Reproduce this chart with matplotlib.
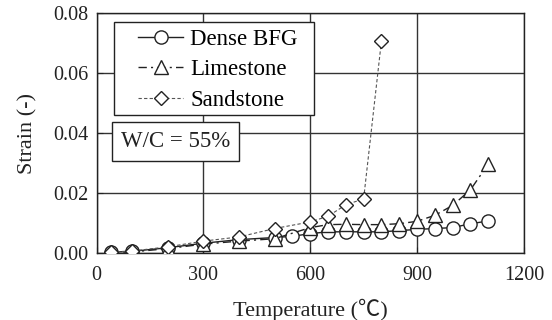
import matplotlib
matplotlib.use('Agg')
import matplotlib.pyplot as plt
from matplotlib.patches import Rectangle

plt.rcParams['font.family'] = ['Liberation Serif', 'Noto Sans CJK JP', 'DejaVu Sans']
plt.rcParams['mathtext.fontset'] = 'stix'

# ── Data ────────────────────────────────────────────────────────────────────
temp_bfg = [40, 100, 200, 300, 400, 500, 550, 600, 650, 700, 750, 800, 850, 900, 950, 1000, 1050, 1100]
strain_bfg = [0.0003, 0.0006, 0.0018, 0.0033, 0.0045, 0.0052, 0.0056, 0.0065, 0.0071, 0.0071, 0.0071, 0.0071,
              0.0075, 0.0079, 0.0082, 0.0085, 0.0098, 0.0107]

temp_lime = [40, 100, 200, 300, 400, 500, 600, 650, 700, 750, 800, 850, 900, 950, 1000, 1050, 1100]
strain_lime = [0.0002, 0.0004, 0.0015, 0.0030, 0.0040, 0.0048, 0.0085, 0.0095, 0.0096, 0.0095, 0.0095,
               0.0098, 0.0106, 0.0126, 0.0159, 0.0211, 0.0297]

temp_sand = [40, 100, 200, 300, 400, 500, 600, 650, 700, 750, 800]
strain_sand = [0.0004, 0.0007, 0.0021, 0.0040, 0.0054, 0.0082, 0.0104, 0.0123, 0.0161, 0.0181, 0.0707]

x_ticks = [0, 300, 600, 900, 1200]
y_ticks = [0.00, 0.02, 0.04, 0.06, 0.08]

# ── Figure ──────────────────────────────────────────────────────────────────
fig = plt.figure(figsize=(5.52, 3.2), dpi=100)
ax = fig.add_axes([0.175, 0.209, 0.774, 0.750])

ax.plot(temp_bfg, strain_bfg, '-', color='#222222', lw=1.0, marker='o', ms=9.5,
        mfc='white', mec='#222222', mew=1.0, label='Dense BFG', zorder=3)
ax.plot(temp_lime, strain_lime, color='#222222', lw=1.0, ls=(0, (6, 3, 1.5, 3)), marker='^', ms=10,
        mfc='white', mec='#222222', mew=1.0, label='Limestone', zorder=4)
ax.plot(temp_sand, strain_sand, color='#555555', lw=0.8, ls=(0, (3, 2)), marker='D', ms=7.5,
        mfc='white', mec='#222222', mew=1.0, label='Sandstone', zorder=5)

ax.set_xlim(0, 1200)
ax.set_ylim(0, 0.08)
ax.set_xticks(x_ticks)
ax.set_yticks(y_ticks)
ax.set_yticklabels([f'{v:.2f}' for v in y_ticks])
ax.grid(True, color='#333333', lw=1.0)
ax.set_axisbelow(True)
ax.tick_params(direction='in', length=4, labelsize=14.5, colors='#222222')
ax.tick_params(axis='y', pad=6)
ax.tick_params(axis='x', pad=9.5)
for sp in ax.spines.values():
    sp.set_color('#222222'); sp.set_linewidth(1.0)

ax.set_xlabel('Temperature (\u2103)', fontsize=16, color='#222222', labelpad=10)
ax.set_ylabel('Strain (-)', fontsize=16, color='#222222', labelpad=11)

# legend frame drawn separately (wide left margin as in the original)
ax.add_patch(Rectangle((0.041, 0.575), 0.468, 0.3875, transform=ax.transAxes,
                       fc='white', ec='#222222', lw=1.0, zorder=6))
leg = ax.legend(loc='upper left', bbox_to_anchor=(0.098, 0.935), fontsize=16.5,
                frameon=False, handlelength=1.95, borderpad=0, labelspacing=0.42,
                handletextpad=0.3, borderaxespad=0)
leg.set_zorder(7)

ax.text(0.185, 0.4646, 'W/C = 55%', transform=ax.transAxes, fontsize=16.5, color='#222222',
        ha='center', va='center', zorder=6,
        bbox=dict(boxstyle='square,pad=0.38', fc='white', ec='#222222', lw=1.0))

fig.savefig('out.png', dpi=100)
